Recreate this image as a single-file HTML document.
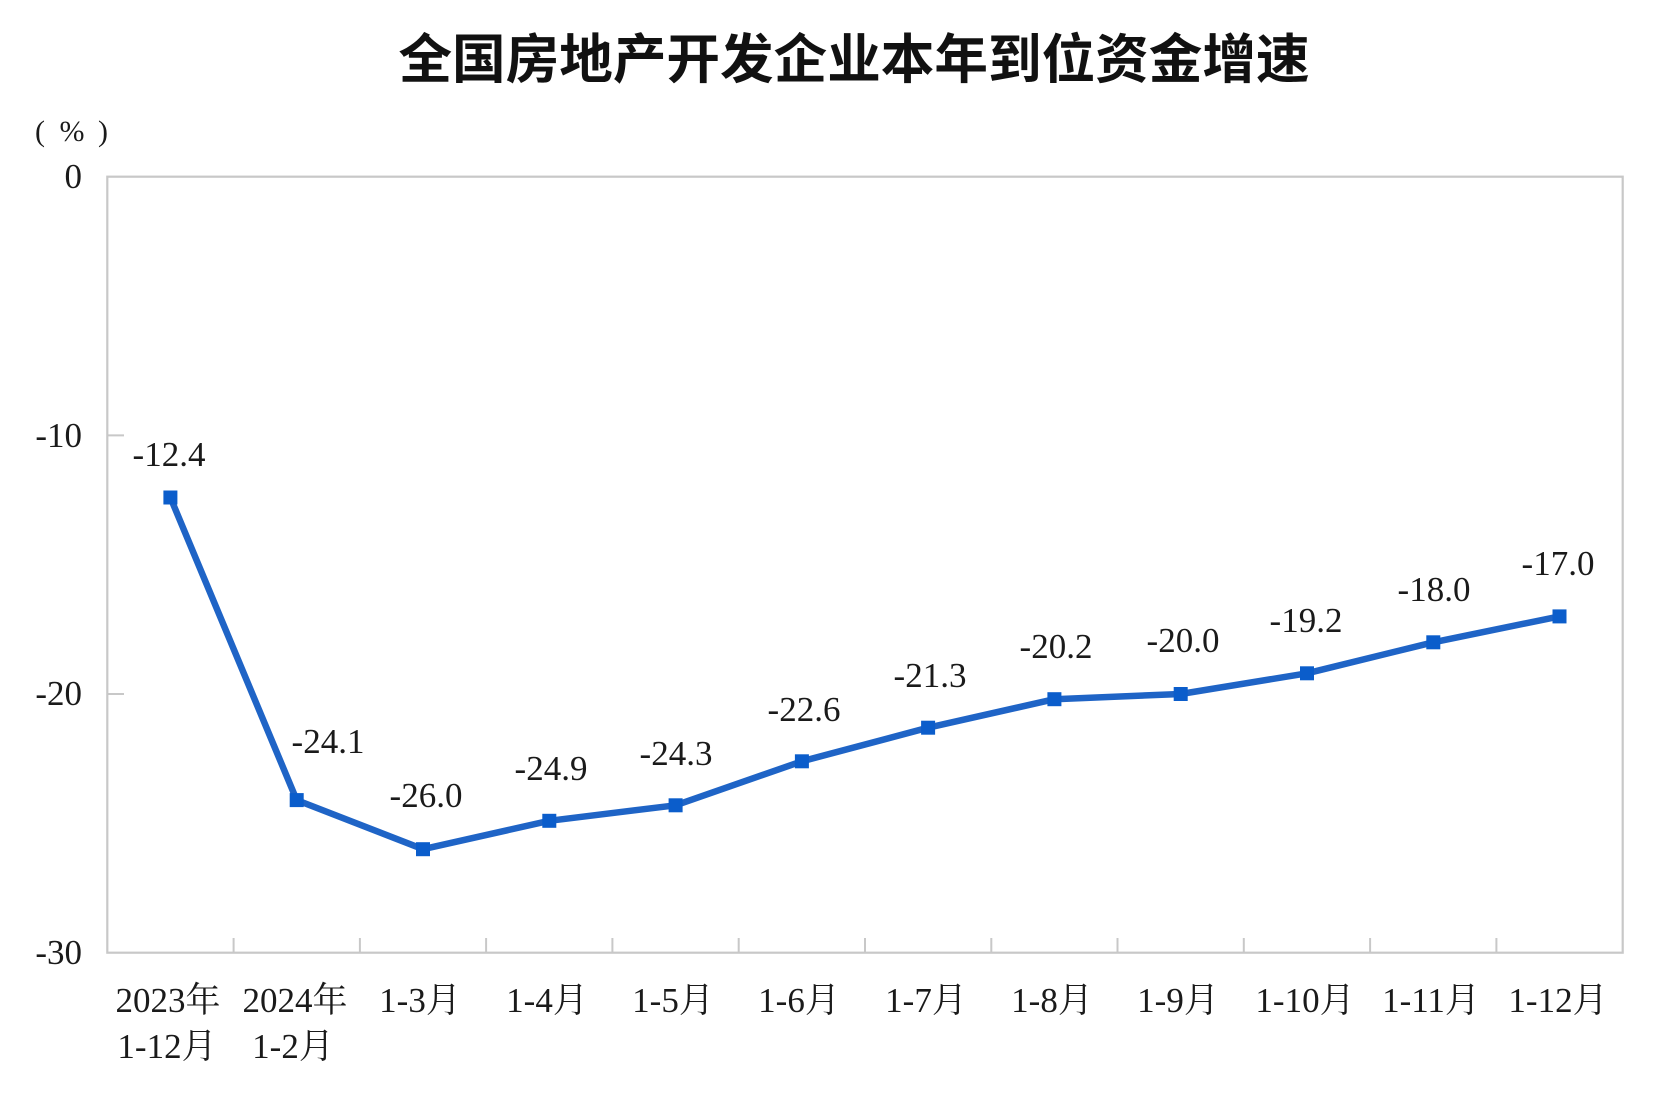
<!DOCTYPE html>
<html>
<head>
<meta charset="utf-8">
<style>
html,body{margin:0;padding:0;background:#fff;}
body{width:1662px;height:1116px;overflow:hidden;}
svg{display:block;}
.num{font-family:"Liberation Serif","Noto Serif CJK SC",serif;font-size:35px;fill:#1a1a1a;}
.cat{font-family:"Liberation Serif","Noto Serif CJK SC",serif;font-size:35px;fill:#1a1a1a;}
.title{font-family:"Liberation Sans","Noto Sans CJK SC",sans-serif;font-size:53.6px;font-weight:700;fill:#111;}
</style>
</head>
<body>
<svg width="1662" height="1116" viewBox="0 0 1662 1116" xmlns="http://www.w3.org/2000/svg">
  <rect x="0" y="0" width="1662" height="1116" fill="#fff"/>
  <!-- title -->
  <text class="title" x="854" y="60" text-anchor="middle" dominant-baseline="central">全国房地产开发企业本年到位资金增速</text>

  <!-- unit -->
  <text class="num" x="40" y="141" text-anchor="middle" style="font-size:30px">(</text>
  <text class="num" x="72" y="141" text-anchor="middle" style="font-size:30px">%</text>
  <text class="num" x="103" y="141" text-anchor="middle" style="font-size:30px">)</text>

  <!-- plot frame -->
  <rect x="107.3" y="176.7" width="1515.4" height="776" fill="none" stroke="#c8c8c8" stroke-width="2.2"/>

  <!-- y ticks -->
  <g stroke="#c8c8c8" stroke-width="2">
    <line x1="107.3" y1="435.4" x2="124" y2="435.4"/>
    <line x1="107.3" y1="694" x2="124" y2="694"/>
  </g>
  <!-- x ticks -->
  <g stroke="#c8c8c8" stroke-width="2">
    <line x1="233.6" y1="952.7" x2="233.6" y2="938"/>
    <line x1="359.9" y1="952.7" x2="359.9" y2="938"/>
    <line x1="486.1" y1="952.7" x2="486.1" y2="938"/>
    <line x1="612.4" y1="952.7" x2="612.4" y2="938"/>
    <line x1="738.7" y1="952.7" x2="738.7" y2="938"/>
    <line x1="865.0" y1="952.7" x2="865.0" y2="938"/>
    <line x1="991.3" y1="952.7" x2="991.3" y2="938"/>
    <line x1="1117.5" y1="952.7" x2="1117.5" y2="938"/>
    <line x1="1243.8" y1="952.7" x2="1243.8" y2="938"/>
    <line x1="1370.1" y1="952.7" x2="1370.1" y2="938"/>
    <line x1="1496.4" y1="952.7" x2="1496.4" y2="938"/>
  </g>

  <!-- y labels -->
  <text class="num" x="82" y="188" text-anchor="end">0</text>
  <text class="num" x="82" y="447" text-anchor="end">-10</text>
  <text class="num" x="82" y="705" text-anchor="end">-20</text>
  <text class="num" x="82" y="964" text-anchor="end">-30</text>

  <!-- x labels -->
  <text class="cat" x="168" y="1012" text-anchor="middle">2023年</text>
  <text class="cat" x="167" y="1058" text-anchor="middle">1-12月</text>
  <text class="cat" x="295" y="1012" text-anchor="middle">2024年</text>
  <text class="cat" x="293" y="1058" text-anchor="middle">1-2月</text>
  <text class="cat" x="420" y="1012" text-anchor="middle">1-3月</text>
  <text class="cat" x="547" y="1012" text-anchor="middle">1-4月</text>
  <text class="cat" x="673" y="1012" text-anchor="middle">1-5月</text>
  <text class="cat" x="799" y="1012" text-anchor="middle">1-6月</text>
  <text class="cat" x="926" y="1012" text-anchor="middle">1-7月</text>
  <text class="cat" x="1052" y="1012" text-anchor="middle">1-8月</text>
  <text class="cat" x="1178" y="1012" text-anchor="middle">1-9月</text>
  <text class="cat" x="1305" y="1012" text-anchor="middle">1-10月</text>
  <text class="cat" x="1431" y="1012" text-anchor="middle">1-11月</text>
  <text class="cat" x="1558" y="1012" text-anchor="middle">1-12月</text>

  <!-- series line -->
  <polyline fill="none" stroke="#1f64c6" stroke-width="6.5" stroke-linejoin="round"
    points="170.4,497.5 296.7,800.1 423.0,849.2 549.3,820.8 675.6,805.3 801.9,761.3 928.1,727.7 1054.4,699.2 1180.7,694.0 1307.0,673.3 1433.3,642.3 1559.5,616.4"/>

  <!-- markers -->
  <g fill="#0b5dcb">
    <rect x="163.4" y="490.5" width="14" height="14"/>
    <rect x="289.7" y="793.1" width="14" height="14"/>
    <rect x="416.0" y="842.2" width="14" height="14"/>
    <rect x="542.3" y="813.8" width="14" height="14"/>
    <rect x="668.6" y="798.3" width="14" height="14"/>
    <rect x="794.9" y="754.3" width="14" height="14"/>
    <rect x="921.1" y="720.7" width="14" height="14"/>
    <rect x="1047.4" y="692.2" width="14" height="14"/>
    <rect x="1173.7" y="687.0" width="14" height="14"/>
    <rect x="1300.0" y="666.3" width="14" height="14"/>
    <rect x="1426.3" y="635.3" width="14" height="14"/>
    <rect x="1552.5" y="609.4" width="14" height="14"/>
  </g>

  <!-- data labels -->
  <text class="num" x="169" y="466" text-anchor="middle">-12.4</text>
  <text class="num" x="328" y="753" text-anchor="middle">-24.1</text>
  <text class="num" x="426" y="807" text-anchor="middle">-26.0</text>
  <text class="num" x="551" y="780" text-anchor="middle">-24.9</text>
  <text class="num" x="676" y="765" text-anchor="middle">-24.3</text>
  <text class="num" x="804" y="721" text-anchor="middle">-22.6</text>
  <text class="num" x="930" y="687" text-anchor="middle">-21.3</text>
  <text class="num" x="1056" y="658" text-anchor="middle">-20.2</text>
  <text class="num" x="1183" y="652" text-anchor="middle">-20.0</text>
  <text class="num" x="1306" y="632" text-anchor="middle">-19.2</text>
  <text class="num" x="1434" y="601" text-anchor="middle">-18.0</text>
  <text class="num" x="1558" y="575" text-anchor="middle">-17.0</text>
</svg>
</body>
</html>
